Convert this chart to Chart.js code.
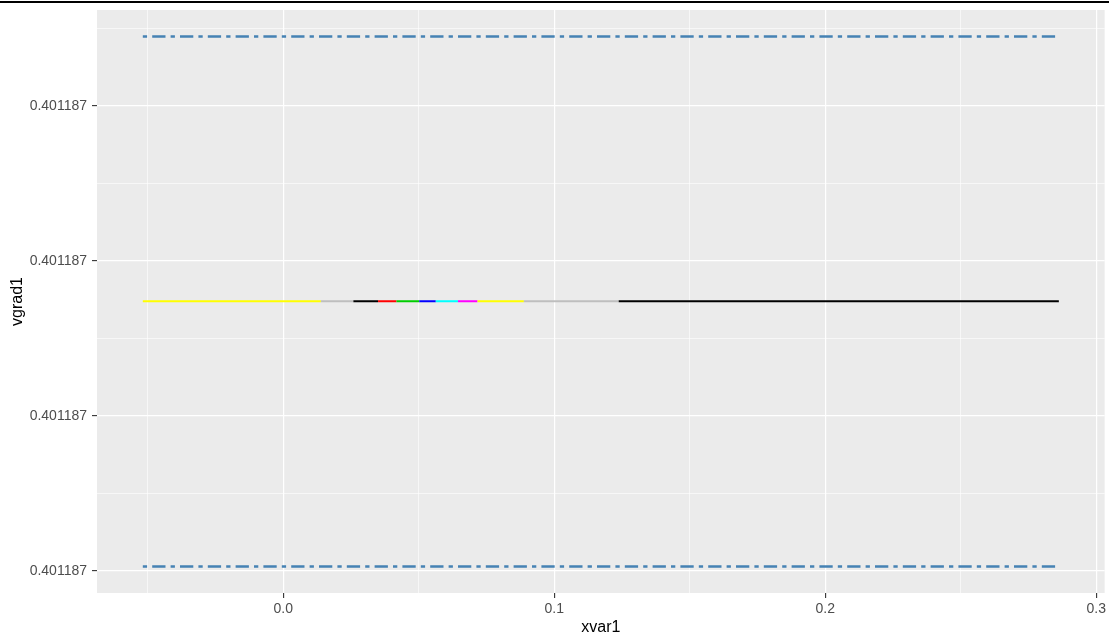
<!DOCTYPE html>
<html>
<head>
<meta charset="utf-8">
<script src="https://cdn.jsdelivr.net/npm/chart.js@4/dist/chart.umd.min.js"></script>
<style>
  html, body { margin: 0; padding: 0; background: #ffffff; }
  #wrap { position: relative; width: 1109px; height: 637px; }
  #topline { position: absolute; left: 0; top: 1px; width: 1109px; height: 2px; background: #000; }
  canvas { position: absolute; left: 0; top: 0; }
</style>
</head>
<body>
<div id="wrap">
  <canvas id="c" width="1109" height="637"></canvas>
  <div id="topline"></div>
</div>
<script>
// ---- data ----
const xBreaks = [-0.0518, 0.0139, 0.0259, 0.0350, 0.0418, 0.0502, 0.0563, 0.0645, 0.0717, 0.0888, 0.1238, 0.2862];
const segColorNames = ['yellow', 'gray', 'black', 'red', 'green3', 'blue', 'cyan', 'magenta', 'yellow', 'gray', 'black'];
const yLevel = 0.4011870174;
const upperRef = 0.40118703449;
const lowerRef = 0.4011870002780;
const refRange = [-0.0518, 0.2862];

const xTickValues = [0, 0.1, 0.2, 0.3];
const xTickLabels = ['0.0', '0.1', '0.2', '0.3'];
const xMinorValues = [-0.05, 0.05, 0.15, 0.25];
const yTickValues = [0.40118700, 0.40118701, 0.40118702, 0.40118703];
const yTickLabels = ['0.401187', '0.401187', '0.401187', '0.401187'];
const yMinorValues = [0.401187005, 0.401187015, 0.401187025, 0.401187035];

const xLabel = 'xvar1';
const yLabel = 'vgrad1';

// ---- styling ----
const colorMap = {
  yellow: '#FFFF00', gray: '#BEBEBE', black: '#000000', red: '#FF0000',
  green3: '#00CD00', blue: '#0000FF', cyan: '#00FFFF', magenta: '#FF00FF'
};
const segColors = segColorNames.map(n => colorMap[n]);
const FONT = "'Liberation Sans', Arial, sans-serif";

// ggplot-like 5% expansion of limits
function expand(lo, hi) { const r = hi - lo; return [lo - 0.05 * r, hi + 0.05 * r]; }
const allX = xBreaks.concat(refRange);
const [xMin, xMax] = expand(Math.min(...allX), Math.max(...allX));
const allY = [yLevel, upperRef, lowerRef];
const [yMin, yMax] = expand(Math.min(...allY), Math.max(...allY));

function buildTicks(scale, majors, minors, lo, hi) {
  const t = [];
  majors.forEach(v => { if (v >= lo && v <= hi) t.push({ value: v, isMinor: false }); });
  minors.forEach(v => { if (v >= lo && v <= hi) t.push({ value: v, isMinor: true }); });
  t.sort((a, b) => a.value - b.value);
  scale.ticks = t;
}
function labelFor(value, majors, labels) {
  let best = 0, bd = Infinity;
  majors.forEach((v, i) => { const d = Math.abs(v - value); if (d < bd) { bd = d; best = i; } });
  return labels[best];
}

const bgPlugin = {
  id: 'bg',
  beforeDraw(chart) {
    const { ctx, chartArea: a } = chart;
    ctx.save();
    ctx.fillStyle = '#FFFFFF';
    ctx.fillRect(0, 0, chart.width, chart.height);
    ctx.fillStyle = '#EBEBEB';
    ctx.fillRect(a.left, a.top, a.right - a.left, a.bottom - a.top);
    ctx.restore();
  }
};

const gridCfg = {
  color: '#FFFFFF',
  lineWidth: c => (c.tick && c.tick.isMinor) ? 0.6 : 1.2,
  tickColor: c => (c.tick && c.tick.isMinor) ? 'rgba(0,0,0,0)' : '#333333',
  tickWidth: 1.1,
  tickLength: 5,
  drawTicks: true,
  drawOnChartArea: true
};

new Chart(document.getElementById('c'), {
  type: 'scatter',
  data: {
    datasets: [
      {
        label: 'upper',
        data: refRange.map(x => ({ x: x, y: upperRef })),
        showLine: true,
        borderColor: '#4682B4',
        borderWidth: 2.4,
        borderDash: [4.3, 5.1, 13.3, 5.1],
        borderCapStyle: 'butt',
        pointRadius: 0
      },
      {
        label: 'lower',
        data: refRange.map(x => ({ x: x, y: lowerRef })),
        showLine: true,
        borderColor: '#4682B4',
        borderWidth: 2.4,
        borderDash: [4.3, 5.1, 13.3, 5.1],
        borderCapStyle: 'butt',
        pointRadius: 0
      },
      {
        label: 'vgrad',
        data: xBreaks.map(x => ({ x: x, y: yLevel })),
        showLine: true,
        borderWidth: 2.2,
        borderCapStyle: 'butt',
        borderColor: segColors[0],
        segment: { borderColor: c => segColors[c.p0DataIndex] },
        pointRadius: 0
      }
    ]
  },
  options: {
    responsive: false,
    animation: false,
    devicePixelRatio: 1,
    layout: { padding: { left: 0, right: 3, top: 10, bottom: 0 } },
    plugins: { legend: { display: false }, tooltip: { enabled: false } },
    scales: {
      x: {
        type: 'linear',
        min: xMin,
        max: xMax,
        afterBuildTicks: s => buildTicks(s, xTickValues, xMinorValues, xMin, xMax),
        afterFit: s => { s.height = 44; },
        grid: gridCfg,
        border: { display: false },
        ticks: {
          autoSkip: false, maxRotation: 0, minRotation: 0, padding: 3,
          color: '#4D4D4D', font: { family: FONT, size: 14 },
          callback: (v, i, ticks) => ticks[i].isMinor ? '' : labelFor(v, xTickValues, xTickLabels)
        },
        title: {
          display: true, text: xLabel, color: '#000000',
          font: { family: FONT, size: 16 }, padding: { top: 0, bottom: 0 }
        }
      },
      y: {
        type: 'linear',
        min: yMin,
        max: yMax,
        afterBuildTicks: s => buildTicks(s, yTickValues, yMinorValues, yMin, yMax),
        afterFit: s => { s.width = 97; s.paddingTop = 0; s.paddingBottom = 0; },
        grid: gridCfg,
        border: { display: false },
        ticks: {
          autoSkip: false, padding: 5,
          color: '#4D4D4D', font: { family: FONT, size: 14 },
          callback: (v, i, ticks) => ticks[i].isMinor ? '' : labelFor(v, yTickValues, yTickLabels)
        },
        title: {
          display: true, text: yLabel, color: '#000000',
          font: { family: FONT, size: 16 }, padding: { top: 8, bottom: 0 }
        }
      }
    }
  },
  plugins: [bgPlugin]
});
</script>
</body>
</html>
